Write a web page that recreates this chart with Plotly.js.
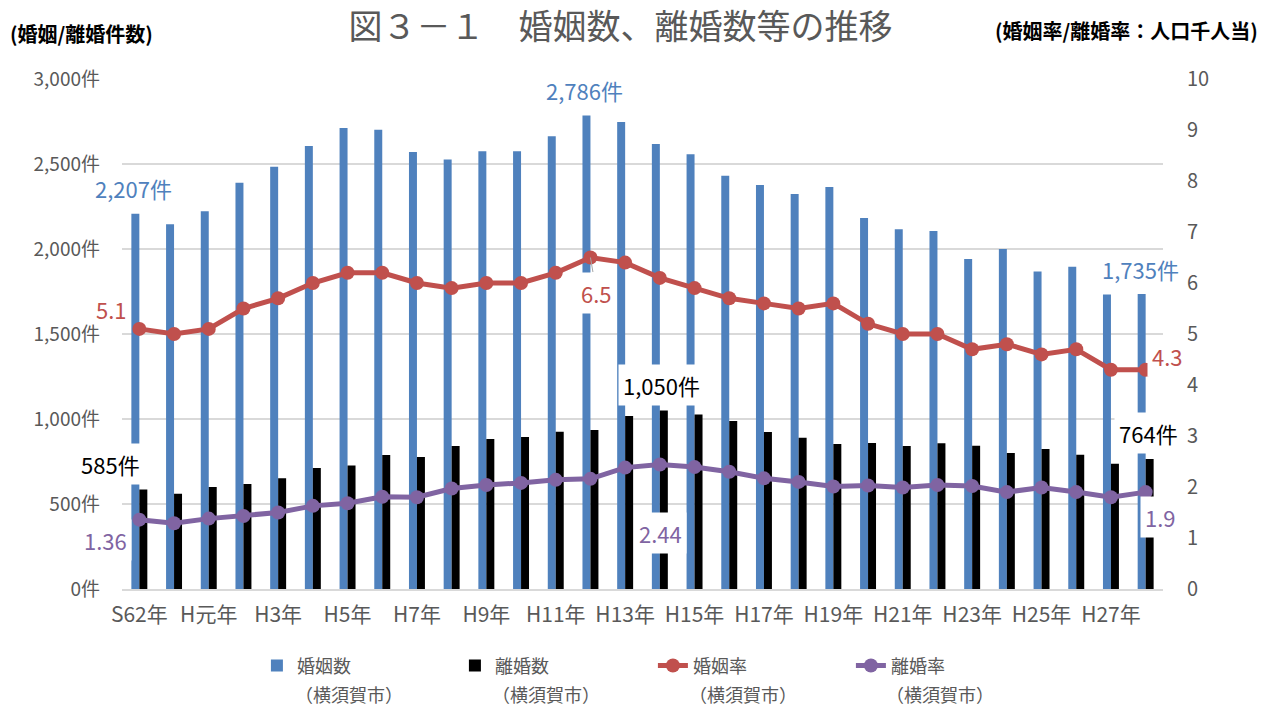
<!DOCTYPE html>
<html>
<head>
<meta charset="utf-8">
<script src="https://cdn.plot.ly/plotly-3.0.1.min.js"></script>
<style>
  html, body { margin: 0; padding: 0; background: #fff; }
  #chart { width: 1274px; height: 709px; }
</style>
</head>
<body>
<div id="chart"></div>
<script>
// 年次 (S62 - H28)
var years = ["S62年","S63年","H元年","H2年","H3年","H4年","H5年","H6年","H7年","H8年",
             "H9年","H10年","H11年","H12年","H13年","H14年","H15年","H16年","H17年","H18年",
             "H19年","H20年","H21年","H22年","H23年","H24年","H25年","H26年","H27年","H28年"];

// x軸に表示する目盛（隔年）
var tickYears = ["S62年","H元年","H3年","H5年","H7年","H9年","H11年","H13年",
                 "H15年","H17年","H19年","H21年","H23年","H25年","H27年"];

// 婚姻数・離婚数（件）
var marriages = [2207,2145,2222,2390,2484,2606,2712,2702,2571,2526,
                 2575,2575,2663,2786,2747,2618,2557,2431,2376,2324,
                 2365,2182,2116,2106,1941,2000,1867,1896,1733,1735];
var divorces = [585,561,600,618,651,712,727,788,776,841,
                882,894,925,935,1018,1050,1027,988,924,890,
                853,859,841,857,843,800,824,790,737,764];

// 婚姻率・離婚率（人口千人当）
var marriageRate = [5.1,5.0,5.1,5.5,5.7,6.0,6.2,6.2,6.0,5.9,
                    6.0,6.0,6.2,6.5,6.4,6.1,5.9,5.7,5.6,5.5,
                    5.6,5.2,5.0,5.0,4.7,4.8,4.6,4.7,4.3,4.3];
var divorceRate = [1.36,1.29,1.38,1.43,1.50,1.63,1.68,1.81,1.80,1.97,
                   2.04,2.08,2.14,2.16,2.38,2.44,2.39,2.30,2.17,2.10,
                   2.01,2.03,1.99,2.04,2.02,1.90,1.99,1.90,1.80,1.90];

var seriesNames = ['婚姻数', '離婚数', '婚姻率', '離婚率'];
var cityName = '（横須賀市）';

var leftTicks = [0,500,1000,1500,2000,2500,3000];

var BLUE = '#4F81BD', BLACK = '#000000', RED = '#C0504D', PURPLE = '#8064A2';
var GRAY = '#595959';
var FONT = '"Noto Sans CJK JP", "Noto Sans", sans-serif';

function countText(v) {
    return v.toLocaleString('en-US') + '件';
}

var traces = [
    {
        x: years, y: marriages, type: 'bar', name: seriesNames[0],
        marker: {color: BLUE}
    },
    {
        x: years, y: divorces, type: 'bar', name: seriesNames[1],
        marker: {color: BLACK}
    },
    {
        x: years, y: marriageRate, type: 'scatter', mode: 'lines+markers', yaxis: 'y2',
        name: seriesNames[2],
        line: {color: RED, width: 5}, marker: {color: RED, size: 14}
    },
    {
        x: years, y: divorceRate, type: 'scatter', mode: 'lines+markers', yaxis: 'y2',
        name: seriesNames[3],
        line: {color: PURPLE, width: 5}, marker: {color: PURPLE, size: 14}
    }
];

// data label offset from its point in pixels; boxed ones get a white background
function dataLabel(values, yref, i, color, dx, dy, text, boxed) {
    return {
        x: years[i], y: values[i], xref: 'x', yref: yref,
        text: text, showarrow: false, xshift: dx, yshift: dy,
        bgcolor: boxed ? '#ffffff' : 'rgba(0,0,0,0)',
        borderpad: boxed ? 4 : 0,
        font: {family: FONT, size: 22, color: color}
    };
}

var annotations = [
    dataLabel(marriages, 'y', 0, BLUE, -6, 26, countText(marriages[0]), false),
    dataLabel(marriages, 'y', 13, BLUE, -6, 25, countText(marriages[13]), false),
    dataLabel(marriages, 'y', 29, BLUE, -5, 25, countText(marriages[29]), false),
    dataLabel(divorces, 'y', 0, BLACK, -29, 26, countText(divorces[0]), true),
    dataLabel(divorces, 'y', 15, BLACK, 2, 26, countText(divorces[15]), true),
    dataLabel(divorces, 'y', 29, BLACK, 3, 26, countText(divorces[29]), true),
    dataLabel(marriageRate, 'y2', 0, RED, -28, 20, marriageRate[0].toFixed(1), true),
    dataLabel(marriageRate, 'y2', 29, RED, 22, 14, marriageRate[29].toFixed(1), true),
    dataLabel(divorceRate, 'y2', 0, PURPLE, -34, -20, String(divorceRate[0]), true),
    dataLabel(divorceRate, 'y2', 15, PURPLE, 1, -68, String(divorceRate[15]), true),
    dataLabel(divorceRate, 'y2', 29, PURPLE, 15, -25, String(divorceRate[29]), true)
];
annotations[6].borderpad = 1;

// 6.5 has a leader line to its point
var peak = dataLabel(marriageRate, 'y2', 13, RED, 0, 0, marriageRate[13].toFixed(1), true);
peak.showarrow = true;
peak.arrowhead = 0;
peak.arrowwidth = 1;
peak.arrowcolor = '#A6A6A6';
peak.ax = 6;
peak.ay = 35;
annotations.push(peak);

// axis captions
annotations.push({
    xref: 'paper', yref: 'paper', x: 0, y: 1, xanchor: 'left', yanchor: 'middle',
    xshift: -114, yshift: 46, showarrow: false,
    text: '<b>(婚姻/離婚件数)</b>',
    font: {family: FONT, size: 20, color: '#000'}
});
annotations.push({
    xref: 'paper', yref: 'paper', x: 1, y: 1, xanchor: 'left', yanchor: 'middle',
    xshift: -170, yshift: 49, showarrow: false,
    text: '<b>(婚姻率/離婚率：人口千人当)</b>',
    font: {family: FONT, size: 20, color: '#000'}
});

// second line of each legend entry
var legendX = 0.1296, legendStep = 197;
seriesNames.forEach(function (name, k) {
    annotations.push({
        xref: 'paper', yref: 'paper', x: legendX, y: -0.2055,
        xanchor: 'left', yanchor: 'middle',
        xshift: 36 + k * legendStep, showarrow: false,
        text: cityName,
        font: {family: FONT, size: 18, color: GRAY}
    });
});

var layout = {
    width: 1274,
    height: 709,
    margin: {l: 122, r: 111, t: 79, b: 120},
    paper_bgcolor: '#ffffff',
    plot_bgcolor: '#ffffff',
    font: {family: FONT, color: GRAY},
    title: {
        text: '図３－１　婚姻数、離婚数等の推移',
        x: 0.487, xanchor: 'center', y: 0.962, yanchor: 'middle',
        font: {family: FONT, size: 34, color: GRAY}
    },
    barmode: 'group',
    bargap: 0.54,
    bargroupgap: 0,
    hovermode: false,
    showlegend: true,
    legend: {
        orientation: 'h',
        x: legendX, xanchor: 'left',
        y: -0.1143, yanchor: 'top',
        entrywidth: legendStep - 44, entrywidthmode: 'pixels',
        font: {family: FONT, size: 18, color: GRAY}
    },
    xaxis: {
        type: 'category',
        range: [-0.5, years.length - 0.5],
        tickmode: 'array',
        tickvals: tickYears,
        ticktext: tickYears,
        ticks: '',
        showgrid: false,
        showline: true,
        linecolor: '#D9D9D9',
        linewidth: 1.5,
        ticklabelstandoff: 6,
        tickfont: {family: FONT, size: 21, color: GRAY}
    },
    yaxis: {
        range: [0, 3000],
        tickmode: 'array',
        tickvals: leftTicks,
        ticktext: leftTicks.map(countText),
        showgrid: true,
        gridcolor: '#D9D9D9',
        gridwidth: 1.5,
        zeroline: false,
        ticks: '',
        ticklabelstandoff: 21,
        tickfont: {family: FONT, size: 19, color: GRAY}
    },
    yaxis2: {
        range: [0, 10],
        dtick: 1,
        overlaying: 'y',
        side: 'right',
        showgrid: false,
        zeroline: false,
        ticks: '',
        ticklabelstandoff: 23,
        tickfont: {family: FONT, size: 20, color: GRAY}
    },
    annotations: annotations
};

Plotly.newPlot('chart', traces, layout, {displayModeBar: false, staticPlot: true});
</script>
</body>
</html>
